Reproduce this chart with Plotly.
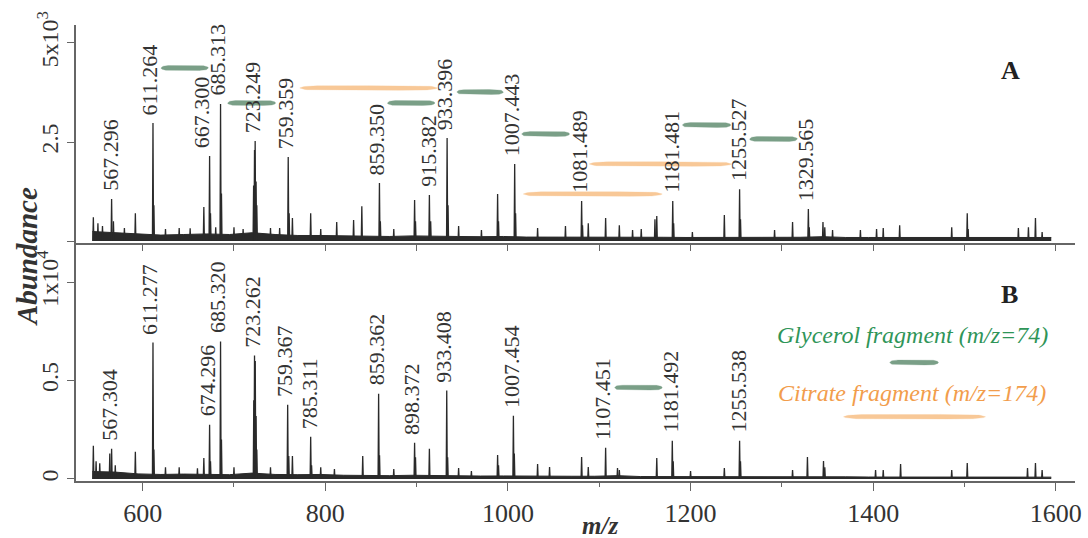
import numpy as np
import plotly.graph_objects as go

# ---------------- data ----------------
# Panel A peaks (m/z, abundance)
peaks_A_mz = [546, 551, 556, 566, 568, 580, 592, 611.3, 612.3, 625, 640, 652, 667, 673.3, 674.3, 680,
              685.3, 686.3, 700, 710, 721.5, 722.5, 723.2, 724.2, 725, 740, 750, 759.4, 760.4, 764,
              784, 795, 812.5, 831, 840, 859.3, 860.3, 875, 897.8, 898.8, 914, 915.4, 933.4, 934.4,
              946, 971, 988.7, 989.7, 1007.4, 1008.4, 1032.5, 1063, 1080.7, 1081.7, 1088, 1107,
              1122, 1136.5, 1146, 1161, 1163, 1180.5, 1181.5, 1202, 1237, 1253.7, 1254.7, 1292,
              1311.7, 1329, 1330, 1345, 1347, 1355.5, 1386, 1403.7, 1411, 1429, 1486, 1503, 1504,
              1559, 1570, 1577.7, 1585]
peaks_A_ab = [600, 450, 380, 1060, 500, 330, 700, 2980, 900, 300, 330, 320, 858, 2146, 700, 350,
              3460, 1200, 350, 300, 1400, 2300, 2525, 1500, 900, 330, 330, 2120, 700, 580,
              700, 300, 480, 530, 880, 1465, 500, 300, 1035, 500, 1160, 500, 2600, 900,
              380, 280, 1190, 500, 1944, 700, 330, 380, 1010, 400, 450, 580,
              400, 280, 300, 550, 630, 1010, 450, 230, 660, 1310, 550, 280,
              480, 810, 350, 480, 350, 280, 280, 300, 330, 400, 350, 700, 300,
              330, 350, 580, 230]

# Panel B peaks
peaks_B_mz = [546, 549, 553, 564, 566, 570, 592, 611.3, 612.3, 625, 640, 660, 667, 673.3, 674.3,
              685.3, 686.3, 700, 721.7, 722.5, 723.3, 724.2, 725, 740, 758.8, 760, 764, 784, 785,
              795, 810, 841, 858.4, 859.4, 875, 897.8, 898.8, 914, 933, 934, 946, 960, 988.7,
              989.7, 1006, 1007, 1032.5, 1045.6, 1080.7, 1088, 1107, 1120, 1122, 1163, 1180,
              1181, 1200, 1237, 1253.7, 1254.7, 1311.7, 1328, 1345.6, 1347, 1402.6, 1411, 1430,
              1486, 1503, 1569, 1577.7, 1585]
peaks_B_ab = [1684, 900, 800, 1300, 1530, 700, 1378, 6939, 1500, 600, 600, 550, 1071, 2755, 900,
              6990, 2000, 600, 4000, 6276, 6000, 3200, 1500, 600, 3775, 1173, 1173, 2143, 700,
              600, 500, 1173, 4337, 1200, 500, 1837, 1100, 1530, 4490, 1100, 560, 400, 1224,
              700, 3214, 1300, 765, 612, 1122, 612, 1581, 560, 450, 1071, 1939,
              900, 400, 560, 1939, 900, 460, 1122, 918, 600, 460, 460, 765,
              460, 816, 560, 816, 460]

# baseline (chemical noise) level, every 25 m/z from 545 to 1595
base_mz = list(range(545, 1596, 25))
base_A = [240, 210, 190, 150, 165, 180, 165, 210, 165, 140, 140, 130, 130, 115, 130, 130, 115, 110,
          115, 100, 100, 100, 95, 110, 95, 95, 90, 90, 90, 90, 90, 95, 110, 90, 90, 90,
          85, 85, 85, 85, 90, 95, 90]
base_B = [380, 350, 260, 230, 250, 230, 220, 300, 230, 220, 230, 190, 170, 170, 190, 170, 170, 150,
          155, 140, 140, 140, 140, 170, 125, 125, 115, 110, 115, 110, 110, 125, 140, 110, 100, 100,
          95, 95, 95, 90, 95, 105, 95]

# peak labels
labels_A = ["567.296", "611.264", "667.300", "685.313", "723.249", "759.359", "859.350", "915.382",
            "933.396", "1007.443", "1081.489", "1181.481", "1255.527", "1329.565"]
labels_B = ["567.304", "611.277", "674.296", "685.320", "723.262", "759.367", "785.311", "859.362",
            "898.372", "933.408", "1007.454", "1107.451", "1181.492", "1255.538"]

# fragment-loss bars: (start m/z, end m/z, abundance level)
gly_A_start = [620, 693, 868, 944, 1015, 1191, 1264.6]
gly_A_end = [672, 745.6, 920, 995, 1067.5, 1244, 1317]
gly_A_level = [4369, 3485, 3485, 3762, 2702, 2929, 2576]
cit_A_start = [772, 1089, 1016.8]
cit_A_end = [923, 1245, 1169]
cit_A_level = [3864, 1944, 1187]
gly_B_start = [1116.8, 1418]
gly_B_end = [1169, 1471.5]
gly_B_level = [4643, 5918]
cit_B_start = [1367.5]
cit_B_end = [1523]
cit_B_level = [3163]

# ---------------- styling ----------------
FONT = "Liberation Serif, Times New Roman, Times, serif"
SPEC = "#2a2a2a"
GLY_BAR = "#7a9f87"
CIT_BAR = "#f8c897"
GLY_TXT = "#2f9558"
CIT_TXT = "#f29d4c"
AXC = "#666666"

YA_RANGE = [-50, 5454]
YB_RANGE = [-102, 11939]
X_RANGE = [527, 1621]

fig = go.Figure()


def add_spectrum(mz, ab, bmz, bab, xa, ya):
    fig.add_trace(go.Scatter(x=bmz, y=bab, mode="lines", fill="tozeroy",
                             line=dict(color=SPEC, width=1.0), fillcolor=SPEC,
                             xaxis=xa, yaxis=ya, hoverinfo="skip", showlegend=False))
    xs, ys = [], []
    for m, h in zip(mz, ab):
        xs += [m - 0.6, m, m + 0.6, None]
        ys += [0, h, 0, None]
    fig.add_trace(go.Scatter(x=xs, y=ys, mode="lines", line=dict(color=SPEC, width=1.3),
                             xaxis=xa, yaxis=ya, showlegend=False))


def add_bars(starts, ends, levels, color, half, xa, ya):
    for x0, x1, lv in zip(starts, ends, levels):
        t = np.linspace(0, 1, 80)
        prof = np.clip(1 - np.abs(2 * t - 1) ** 8, 0, 1) ** 0.6
        xs = list(x0 + (x1 - x0) * t) + list(x0 + (x1 - x0) * t[::-1])
        ys = list(lv + half * prof) + list(lv - half * prof[::-1])
        fig.add_trace(go.Scatter(x=xs, y=ys, mode="lines", fill="toself", fillcolor=color,
                                 line=dict(color=color, width=0.3), xaxis=xa, yaxis=ya,
                                 hoverinfo="skip", showlegend=False))


add_spectrum(peaks_A_mz, peaks_A_ab, base_mz, base_A, "x", "y")
add_spectrum(peaks_B_mz, peaks_B_ab, base_mz, base_B, "x2", "y2")
add_bars(gly_A_start, gly_A_end, gly_A_level, GLY_BAR, 62, "x", "y")
add_bars(cit_A_start, cit_A_end, cit_A_level, CIT_BAR, 58, "x", "y")
add_bars(gly_B_start, gly_B_end, gly_B_level, GLY_BAR, 125, "x2", "y2")
add_bars(cit_B_start, cit_B_end, cit_B_level, CIT_BAR, 115, "x2", "y2")

annotations = []


def add_labels(labels, mz, ab, xr, yr):
    for lab in labels:
        m = float(lab)
        near = [h for mm, h in zip(mz, ab) if abs(mm - m) <= 8]
        top = max(near)
        annotations.append(dict(x=m, y=top, xref=xr, yref=yr, text=lab, showarrow=False,
                                textangle=-90, yanchor="bottom", xanchor="center", xshift=-3,
                                yshift=6, font=dict(family=FONT, size=22, color="#333333")))


add_labels(labels_A, peaks_A_mz, peaks_A_ab, "x", "y")
add_labels(labels_B, peaks_B_mz, peaks_B_ab, "x2", "y2")

annotations += [
    dict(x=1550, y=4318, xref="x", yref="y", text="<b>A</b>", showarrow=False,
         font=dict(family=FONT, size=26, color="#222222")),
    dict(x=1549, y=9388, xref="x2", yref="y2", text="<b>B</b>", showarrow=False,
         font=dict(family=FONT, size=26, color="#222222")),
    dict(x=1443, y=7296, xref="x2", yref="y2", text="<i>Glycerol fragment (m/z=74)</i>",
         showarrow=False, font=dict(family=FONT, size=24, color=GLY_TXT)),
    dict(x=1443, y=4388, xref="x2", yref="y2", text="<i>Citrate fragment (m/z=174)</i>",
         showarrow=False, font=dict(family=FONT, size=24, color=CIT_TXT)),
    dict(x=-0.049, y=0.491, xref="paper", yref="paper", text="<b><i>Abundance</i></b>",
         showarrow=False, textangle=-90, xanchor="center", yanchor="middle",
         font=dict(family=FONT, size=29, color="#333333")),
    dict(x=0.5245, y=-0.098, xref="paper", yref="paper", text="<b><i>m/z</i></b>",
         showarrow=False, xanchor="center", yanchor="middle",
         font=dict(family=FONT, size=25, color="#333333")),
]

tickfont_x = dict(family=FONT, size=26, color="#333333")
tickfont_y = dict(family=FONT, size=24, color="#333333")

fig.update_layout(
    width=1088, height=538,
    margin=dict(l=76, r=13, t=25, b=57, autoexpand=False),
    paper_bgcolor="white", plot_bgcolor="white",
    showlegend=False,
    annotations=annotations,
    xaxis=dict(domain=[0, 1], anchor="y", range=X_RANGE, showgrid=False, zeroline=False,
               automargin=False,
               showline=True, linecolor=AXC, linewidth=1.5, ticks="outside", tickcolor=AXC,
               ticklen=6, tickwidth=1.2, tick0=0, dtick=100, showticklabels=False),
    yaxis=dict(domain=[0.5219, 1], anchor="x", range=YA_RANGE, showgrid=False, zeroline=False,
               automargin=False,
               showline=True, linecolor=AXC, linewidth=1.5, ticks="outside", tickcolor=AXC,
               ticklen=7, tickwidth=1.2, tickvals=[0, 2500, 5000],
               ticktext=["", "2.5", "5x10<sup>3</sup>"], tickangle=-90, tickfont=tickfont_y),
    xaxis2=dict(domain=[0, 1], anchor="y2", range=X_RANGE, showgrid=False, zeroline=False,
                automargin=False,
                showline=True, linecolor=AXC, linewidth=1.5, ticks="outside", tickcolor=AXC,
                ticklen=8, tickwidth=1.2, tick0=0, dtick=200, tickfont=tickfont_x,
                minor=dict(dtick=100, ticklen=4, tickcolor=AXC, ticks="outside")),
    yaxis2=dict(domain=[0, 0.5197], anchor="x2", range=YB_RANGE, showgrid=False, zeroline=False,
                automargin=False,
                showline=True, linecolor=AXC, linewidth=1.5, ticks="outside", tickcolor=AXC,
                ticklen=7, tickwidth=1.2, tickvals=[0, 5000, 10000],
                ticktext=["0", "0.5", "1x10<sup>4</sup>"], tickangle=-90, tickfont=tickfont_y),
)

fig.write_html("out.html", config={"displayModeBar": False},
               post_script="document.body.style.margin='0';")
